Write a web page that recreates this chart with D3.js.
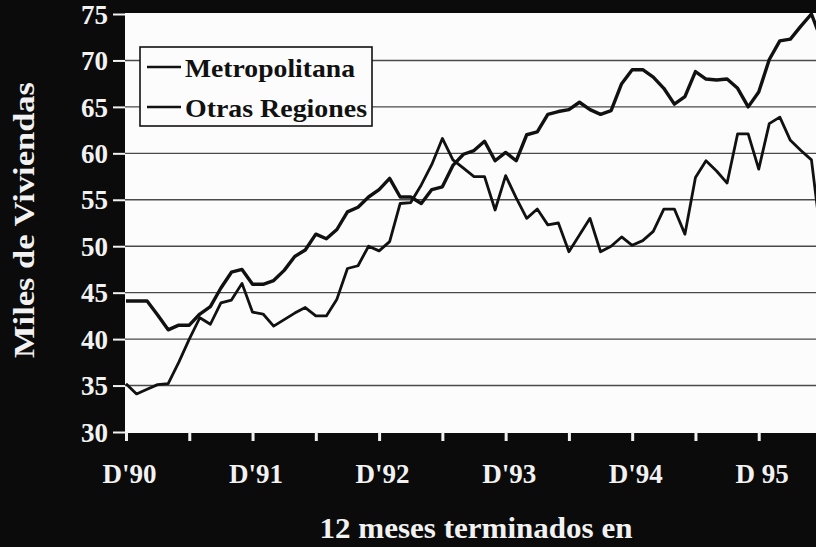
<!DOCTYPE html>
<html>
<head>
<meta charset="utf-8">
<script src="https://cdn.jsdelivr.net/npm/d3@7"></script>
<style>
  html, body { margin: 0; padding: 0; background: #0b0b0b; }
  svg { display: block; }
</style>
</head>
<body>
<svg width="816" height="547"></svg>
<script>
// months from Dec 1990, one value per month
const metropolitana = [35.2, 34.1, 34.6, 35.1, 35.2, 37.5, 40.0, 42.3, 41.6, 43.9, 44.2, 46.0,
  42.9, 42.7, 41.4, 42.1, 42.8, 43.4, 42.5, 42.5, 44.3, 47.6, 47.9, 50.0,
  49.5, 50.5, 54.6, 54.7, 56.6, 58.8, 61.6, 59.3, 58.4, 57.5, 57.5, 53.9,
  57.6, 55.2, 53.0, 54.0, 52.3, 52.5, 49.4, 51.2, 53.0, 49.4, 50.0, 51.0,
  50.1, 50.6, 51.6, 54.0, 54.0, 51.3, 57.4, 59.2, 58.1, 56.8, 62.1, 62.1,
  58.3, 63.2, 63.9, 61.4, 60.3, 59.3, 50.0];
const otrasRegiones = [44.1, 44.1, 44.1, 42.6, 41.0, 41.5, 41.5, 42.7, 43.5, 45.5, 47.2, 47.5,
  45.9, 45.9, 46.3, 47.4, 48.9, 49.6, 51.3, 50.8, 51.8, 53.7, 54.2, 55.3,
  56.1, 57.3, 55.3, 55.3, 54.6, 56.1, 56.4, 58.7, 59.9, 60.3, 61.3, 59.2,
  60.1, 59.2, 62.0, 62.3, 64.2, 64.5, 64.7, 65.5, 64.7, 64.2, 64.6, 67.5,
  69.0, 69.0, 68.2, 67.0, 65.3, 66.1, 68.8, 68.0, 67.9, 68.0, 67.0, 65.0,
  66.6, 70.1, 72.1, 72.3, 73.7, 75.0, 72.0];
const seriesNames = ["Metropolitana", "Otras Regiones"];
const yTicks = [30, 35, 40, 45, 50, 55, 60, 65, 70, 75];
const xTickMonths = [0, 6, 12, 18, 24, 30, 36, 42, 48, 54, 60];
const xLabels = ["D'90", "D'91", "D'92", "D'93", "D'94", "D 95"];

const svg = d3.select("svg");
const font = "'Liberation Serif', 'Times New Roman', serif";

const x = d3.scaleLinear().domain([0, 66]).range([126, 822]);
const y = d3.scaleLinear().domain([30, 75]).range([432, 14]);

// plot background
svg.append("rect")
  .attr("x", 125).attr("y", 13)
  .attr("width", 700).attr("height", 420)
  .attr("fill", "#fcfcfc");

svg.append("clipPath").attr("id", "plot")
  .append("rect")
  .attr("x", 125).attr("y", 13)
  .attr("width", 700).attr("height", 420);

// gridlines
svg.append("g")
  .selectAll("line")
  .data(yTicks.filter(d => d > 30 && d < 75))
  .join("line")
  .attr("x1", 125).attr("x2", 816)
  .attr("y1", d => y(d)).attr("y2", d => y(d))
  .attr("stroke", "#4a4a4a")
  .attr("stroke-width", 1.4);

// y axis
const yAxis = svg.append("g")
  .attr("transform", "translate(125,0)")
  .call(d3.axisLeft(y).tickValues(yTicks).tickSize(12).tickPadding(5));
yAxis.select(".domain").remove();
yAxis.selectAll(".tick line").attr("stroke", "#f2f2f2").attr("stroke-width", 2);
yAxis.selectAll(".tick text")
  .attr("fill", "#f2f2f2")
  .attr("font-family", font)
  .attr("font-weight", "bold")
  .attr("font-size", 27)
  .attr("dy", "0.34em");

// x axis
const xAxis = svg.append("g")
  .attr("transform", "translate(0,432)")
  .call(d3.axisBottom(x).tickValues(xTickMonths).tickSize(9)
    .tickFormat(d => d % 12 === 0 ? xLabels[d / 12] : ""));
xAxis.select(".domain").remove();
xAxis.selectAll(".tick line").attr("stroke", "#f2f2f2").attr("stroke-width", 3);
xAxis.selectAll(".tick text")
  .attr("fill", "#f2f2f2")
  .attr("font-family", font)
  .attr("font-weight", "bold")
  .attr("font-size", 27)
  .attr("x", 3)
  .attr("y", 51)
  .attr("dy", 0);

// lines
const line = d3.line()
  .x((d, i) => x(i))
  .y(d => y(d));

const lines = svg.append("g").attr("clip-path", "url(#plot)");
lines.append("path")
  .datum(metropolitana)
  .attr("fill", "none")
  .attr("stroke", "#111")
  .attr("stroke-width", 2.8)
  .attr("stroke-linejoin", "round")
  .attr("d", line);
lines.append("path")
  .datum(otrasRegiones)
  .attr("fill", "none")
  .attr("stroke", "#111")
  .attr("stroke-width", 3.4)
  .attr("stroke-linejoin", "round")
  .attr("d", line);

// legend
const legend = svg.append("g");
legend.append("rect")
  .attr("x", 140).attr("y", 47)
  .attr("width", 232).attr("height", 79)
  .attr("fill", "#fcfcfc")
  .attr("stroke", "#111")
  .attr("stroke-width", 1.6);
const legendWidths = [170, 182];
seriesNames.forEach((name, i) => {
  const ly = 67 + i * 40;
  legend.append("line")
    .attr("x1", 147).attr("x2", 181)
    .attr("y1", ly).attr("y2", ly)
    .attr("stroke", "#111")
    .attr("stroke-width", 2.6);
  legend.append("text")
    .attr("x", 185).attr("y", ly + 10)
    .attr("font-family", font)
    .attr("font-weight", "bold")
    .attr("font-size", 26)
    .attr("fill", "#111")
    .attr("textLength", legendWidths[i])
    .attr("lengthAdjust", "spacingAndGlyphs")
    .text(name);
});

// axis titles
svg.append("text")
  .attr("transform", "translate(34,220) rotate(-90)")
  .attr("text-anchor", "middle")
  .attr("font-family", font)
  .attr("font-weight", "bold")
  .attr("font-size", 29)
  .attr("fill", "#f2f2f2")
  .attr("textLength", 276)
  .attr("lengthAdjust", "spacingAndGlyphs")
  .text("Miles de Viviendas");

svg.append("text")
  .attr("x", 476).attr("y", 538)
  .attr("text-anchor", "middle")
  .attr("font-family", font)
  .attr("font-weight", "bold")
  .attr("font-size", 29)
  .attr("fill", "#f2f2f2")
  .attr("textLength", 313)
  .attr("lengthAdjust", "spacingAndGlyphs")
  .text("12 meses terminados en");
</script>
</body>
</html>
